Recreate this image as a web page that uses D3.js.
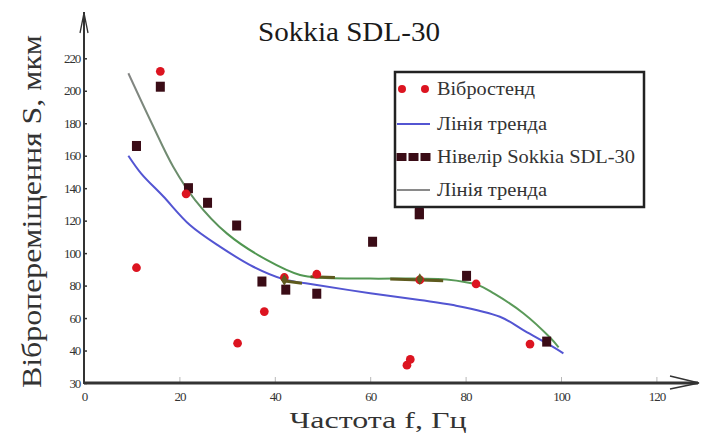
<!DOCTYPE html>
<html>
<head>
<meta charset="utf-8">
<script src="https://cdn.jsdelivr.net/npm/d3@7"></script>
<style>
    body { margin: 0; background: #fff; }
</style>
</head>
<body>
<div id="chart"></div>
<script>
// DATA //
// Вібростенд (red points)
const standPoints = [
    [11, 91], [11, 166], [16, 212], [21.4, 136.5], [32.2, 44.5], [37.8, 64],
    [42, 85], [48.8, 87], [67.7, 31], [68.4, 34.5], [70.4, 83.5], [82.2, 81], [93.5, 44]
]
// Нівелір Sokkia SDL-30 (dark squares)
const levelPoints = [
    [11, 166], [16, 202.5], [21.9, 140], [25.9, 131], [32, 117], [37.3, 82.5],
    [42.3, 77.5], [48.8, 75], [60.5, 107], [70.3, 124], [80.2, 86], [97, 45.5]
]
// trend lines
const standTrend = [
    [9.3, 160], [12, 149], [16.6, 135], [22.2, 117.3], [28.5, 104], [35.5, 91.6],
    [41.8, 84], [48.8, 80.4], [60, 75.3], [70.4, 71.1], [77.4, 68], [87.2, 60.8],
    [92.1, 52.6], [97, 44.5], [100.5, 38.3]
]
const levelTrend = [
    [9.3, 210.8], [14.2, 180], [18.7, 153.2], [23.3, 132.7], [30, 112], [38.3, 95.8],
    [45.3, 86.5], [50, 84.8], [60, 84.3], [70, 84.3], [76, 83.8], [82.4, 80.5],
    [86, 75], [92.1, 63], [97.7, 48], [99.5, 42]
]
// small olive overlay on the level trend
const oliveSegments = [
    [[41.7, 83], [45.7, 81.5]],
    [[47.5, 85.5], [52.6, 85]],
    [[64.2, 84], [75.3, 83]]
]
const oliveMarks = [[42, 83.5], [70.4, 84]]

const xTicks = [0, 20, 40, 60, 80, 100, 120]
const yTicks = [20, 40, 60, 80, 100, 120, 140, 160, 180, 200, 220]
const yTickLabels = ["30", "40", "60", "80", "100", "120", "140", "160", "180", "200", "220"]

const legendItems = [
    { label: "Вібростенд", type: "dots", len: 98 },
    { label: "Лінія тренда", type: "blue", len: 110 },
    { label: "Нівелір Sokkia SDL-30", type: "squares", len: 198 },
    { label: "Лінія тренда", type: "green", len: 110 }
]

// DIMENSIONS //
const width = 707
const height = 443
const serif = "Liberation Serif"

const colors = {
    red: "#dc1420",
    dark: "#3a0c16",
    blue: "#5355d2",
    axis: "#333333",
    olive: "#5e5a1e"
}

const xScale = d3.scaleLinear()
    .domain([0, 120])
    .range([84, 656.4])

const yScale = d3.scaleLinear()
    .domain([20, 220])
    .range([383, 58.3])

const svg = d3.select("#chart")
    .append("svg")
    .attr("width", width)
    .attr("height", height)
    .attr("font-family", serif)

const defs = svg.append("defs")
const grad = defs.append("linearGradient")
    .attr("id", "greenGrad")
    .attr("gradientUnits", "userSpaceOnUse")
    .attr("x1", xScale(9)).attr("x2", xScale(100))
    .attr("y1", 0).attr("y2", 0)
grad.append("stop").attr("offset", "0%").attr("stop-color", "#858585")
grad.append("stop").attr("offset", "25%").attr("stop-color", "#4f9650")
grad.append("stop").attr("offset", "100%").attr("stop-color", "#5c9a5a")

// AXES //
const xAxisGenerator = d3.axisBottom(xScale)
    .tickValues(xTicks)
    .tickSizeInner(-6)
    .tickSizeOuter(0)
    .tickPadding(9)

const yAxisGenerator = d3.axisLeft(yScale)
    .tickValues(yTicks)
    .tickFormat((d, i) => yTickLabels[i])
    .tickSizeInner(-3)
    .tickSizeOuter(0)
    .tickPadding(4)

const xAxis = svg.append("g")
    .attr("transform", `translate(0, ${yScale(20)})`)
    .call(xAxisGenerator)
    .attr("font-family", serif)
xAxis.select(".domain").remove()
xAxis.selectAll(".tick line").attr("stroke", "#b8b8b8")
xAxis.selectAll(".tick text")
    .attr("font-size", 13)
    .attr("fill", "#333")
    .style("letter-spacing", "-1px")

const yAxis = svg.append("g")
    .attr("transform", `translate(${xScale(0)}, 0)`)
    .call(yAxisGenerator)
    .attr("font-family", serif)
yAxis.select(".domain").remove()
yAxis.selectAll(".tick line").attr("stroke", "#333").attr("stroke-width", 1.5)
yAxis.selectAll(".tick text")
    .attr("font-size", 13)
    .attr("fill", "#333")
    .style("letter-spacing", "-1.2px")

// axis lines with arrows
const x0 = xScale(0)
const y0 = yScale(20)
svg.append("line")
    .attr("x1", x0).attr("x2", 698)
    .attr("y1", y0).attr("y2", y0)
    .attr("stroke", colors.axis)
    .attr("stroke-width", 3)
svg.append("path")
    .attr("d", `M670,376 L699,${y0} L670,389`)
    .attr("fill", "none")
    .attr("stroke", colors.axis)
    .attr("stroke-width", 1.5)

svg.append("line")
    .attr("x1", x0).attr("x2", x0)
    .attr("y1", y0 + 1).attr("y2", 12)
    .attr("stroke", colors.axis)
    .attr("stroke-width", 2)
svg.append("path")
    .attr("d", `M${x0 - 4},33 L${x0},13 L${x0 + 4},33`)
    .attr("fill", "none")
    .attr("stroke", colors.axis)
    .attr("stroke-width", 1.3)

// TITLE AND LABELS //
svg.append("text")
    .attr("x", 349)
    .attr("y", 41)
    .attr("text-anchor", "middle")
    .attr("font-size", 27)
    .attr("textLength", 182)
    .attr("lengthAdjust", "spacingAndGlyphs")
    .attr("fill", "#1a1a1a")
    .text("Sokkia SDL-30")

svg.append("text")
    .attr("transform", "translate(41, 211.5) rotate(-90)")
    .attr("text-anchor", "middle")
    .attr("font-size", 28)
    .attr("textLength", 353)
    .attr("lengthAdjust", "spacingAndGlyphs")
    .attr("fill", "#333")
    .text("Вібропереміщення S, мкм")

svg.append("text")
    .attr("x", 378)
    .attr("y", 428)
    .attr("text-anchor", "middle")
    .attr("font-size", 23)
    .attr("textLength", 177)
    .attr("lengthAdjust", "spacingAndGlyphs")
    .attr("fill", "#333")
    .text("Частота f, Гц")

// TREND LINES //
const lineGen = d3.line()
    .x(d => xScale(d[0]))
    .y(d => yScale(d[1]))
    .curve(d3.curveCatmullRom.alpha(0.5))

svg.append("path")
    .datum(standTrend)
    .attr("d", lineGen)
    .attr("fill", "none")
    .attr("stroke", colors.blue)
    .attr("stroke-width", 2)

svg.append("path")
    .datum(levelTrend)
    .attr("d", lineGen)
    .attr("fill", "none")
    .attr("stroke", "url(#greenGrad)")
    .attr("stroke-width", 2)

svg.selectAll(".olive")
    .data(oliveSegments)
    .join("path")
    .attr("class", "olive")
    .attr("d", d3.line().x(d => xScale(d[0])).y(d => yScale(d[1])))
    .attr("fill", "none")
    .attr("stroke", colors.olive)
    .attr("stroke-width", 3)

// POINTS //
svg.selectAll(".level")
    .data(levelPoints)
    .join("rect")
    .attr("class", "level")
    .attr("x", d => xScale(d[0]) - 4.5)
    .attr("y", d => yScale(d[1]) - 5)
    .attr("width", 9)
    .attr("height", 10)
    .attr("fill", colors.dark)

svg.selectAll(".stand")
    .data(standPoints)
    .join("path")
    .attr("class", "stand")
    .attr("transform", d => `translate(${xScale(d[0])}, ${yScale(d[1])})`)
    .attr("d", d3.symbol(d3.symbolCircle, 60))
    .attr("fill", colors.red)

// level point at 11 sits over the red one
svg.selectAll(".levelTop")
    .data(levelPoints.filter(d => d[0] < 12))
    .join("rect")
    .attr("class", "levelTop")
    .attr("x", d => xScale(d[0]) - 4.5)
    .attr("y", d => yScale(d[1]) - 5)
    .attr("width", 9)
    .attr("height", 10)
    .attr("rx", 2)
    .attr("fill", colors.dark)

svg.selectAll(".oliveMark")
    .data(oliveMarks)
    .join("path")
    .attr("class", "oliveMark")
    .attr("transform", d => `translate(${xScale(d[0])}, ${yScale(d[1])})`)
    .attr("d", d3.symbol(d3.symbolDiamond, 40))
    .attr("fill", colors.olive)

// LEGEND //
const legend = svg.append("g")

legend.append("rect")
    .attr("x", 395)
    .attr("y", 72)
    .attr("width", 249)
    .attr("height", 135)
    .attr("fill", "#fff")
    .attr("stroke", "#222")
    .attr("stroke-width", 2.5)

const rowY = [89, 124, 157, 190]

legendItems.forEach((item, i) => {
    const y = rowY[i]
    if (item.type == "dots") {
        [402, 425].forEach(cx => {
            legend.append("path")
                .attr("transform", `translate(${cx}, ${y})`)
                .attr("d", d3.symbol(d3.symbolCircle, 50))
                .attr("fill", colors.red)
        })
    } else if (item.type == "squares") {
        [401, 413, 425].forEach(cx => {
            legend.append("rect")
                .attr("x", cx - 4.5)
                .attr("y", y - 4)
                .attr("width", 10)
                .attr("height", 8)
                .attr("fill", colors.dark)
        })
    } else {
        legend.append("line")
            .attr("x1", 397).attr("x2", 430)
            .attr("y1", y).attr("y2", y)
            .attr("stroke", item.type == "blue" ? colors.blue : "#8a8a8a")
            .attr("stroke-width", 2)
    }
    legend.append("text")
        .attr("x", 437)
        .attr("y", y + 6)
        .attr("font-size", 19)
        .attr("textLength", item.len)
        .attr("lengthAdjust", "spacingAndGlyphs")
        .attr("fill", "#333")
        .text(item.label)
})

// the 70 Hz level point pokes out under the legend
svg.append("rect")
    .datum(levelPoints[9])
    .attr("x", d => xScale(d[0]) - 4.5)
    .attr("y", 208)
    .attr("width", 9)
    .attr("height", d => yScale(d[1]) + 5 - 208)
    .attr("fill", colors.dark)
</script>
</body>
</html>
